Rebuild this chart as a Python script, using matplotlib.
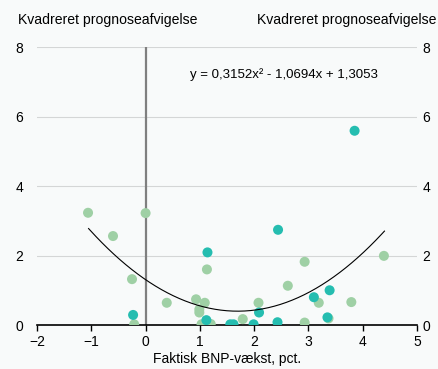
import numpy as np
from matplotlib import pyplot as plt

plt.rcParams['font.family'] = ['Liberation Sans', 'DejaVu Sans']

# lysegrønne punkter
x_lys = [-1.06, 0.0, -0.60, -0.25, -0.21, 0.39, 0.93, 1.09, 0.99, 0.99, 1.13,
         1.03, 1.20, 2.08, 1.79, 2.93, 2.62, 3.19, 3.79, 4.39, 2.93, 3.37]
y_lys = [3.23, 3.22, 2.56, 1.32, 0.02, 0.64, 0.74, 0.64, 0.45, 0.36, 1.60,
         0.02, 0.03, 0.64, 0.17, 1.82, 1.13, 0.64, 0.66, 1.99, 0.07, 0.19]

# turkise punkter
x_tur = [-0.23, 1.14, 1.12, 1.56, 1.62, 1.99, 2.09, 2.43, 2.44, 3.10, 3.39, 3.35, 3.85]
y_tur = [0.29, 2.09, 0.14, 0.02, 0.02, 0.02, 0.36, 0.08, 2.74, 0.80, 1.00, 0.22, 5.59]

# trendlinje
a, b, c = 0.3152, -1.0694, 1.3053
x_fit = np.linspace(-1.05, 4.4, 200)
y_fit = a * x_fit**2 + b * x_fit + c

bg = '#f8fafa'
fig = plt.figure(figsize=(4.38, 3.69), dpi=100, facecolor=bg)
ax = fig.add_axes([0.0845, 0.1192, 0.8676, 0.7534], facecolor=bg)

for yv in [2, 4, 6, 8]:
    ax.axhline(yv, color='#d4d6d6', lw=0.8, zorder=0)
ax.plot([0, 0], [0, 8], color='#7f7f7f', lw=1.6, zorder=1)

ax.scatter(x_lys, y_lys, s=52, color='#9fd0a5', edgecolors='none', zorder=3)
ax.scatter(x_tur, y_tur, s=52, color='#25bdb0', edgecolors='none', zorder=4)
ax.plot(x_fit, y_fit, color='black', lw=0.8, zorder=5)

ax.text(0.82, 7.2, 'y = 0,3152x² - 1,0694x + 1,3053', fontsize=9.5, va='center')

ax.set_xlim(-2, 5)
ax.set_ylim(0, 8)
ax.set_xticks(range(-2, 6))
ax.set_yticks([0, 2, 4, 6, 8])
for s in ['top', 'right', 'left']:
    ax.spines[s].set_visible(False)
ax.spines['bottom'].set_color('black')
ax.spines['bottom'].set_linewidth(1.2)
ax.tick_params(axis='x', length=4, width=1, direction='out', labelsize=10, pad=3)
ax.tick_params(axis='y', length=0, labelsize=10, pad=10)
ax.set_xlabel('Faktisk BNP-vækst, pct.', fontsize=10, labelpad=2)

ax2 = ax.twinx()
ax2.set_ylim(0, 8)
ax2.set_yticks([0, 2, 4, 6, 8])
for s in ax2.spines.values():
    s.set_visible(False)
ax2.tick_params(axis='y', length=0, labelsize=10, pad=4)

fig.text(0.041, 0.945, 'Kvadreret prognoseafvigelse', fontsize=10.1, va='center', ha='left')
fig.text(0.997, 0.945, 'Kvadreret prognoseafvigelse', fontsize=10.1, va='center', ha='right')

plt.savefig('out.png', dpi=100, facecolor=bg)
